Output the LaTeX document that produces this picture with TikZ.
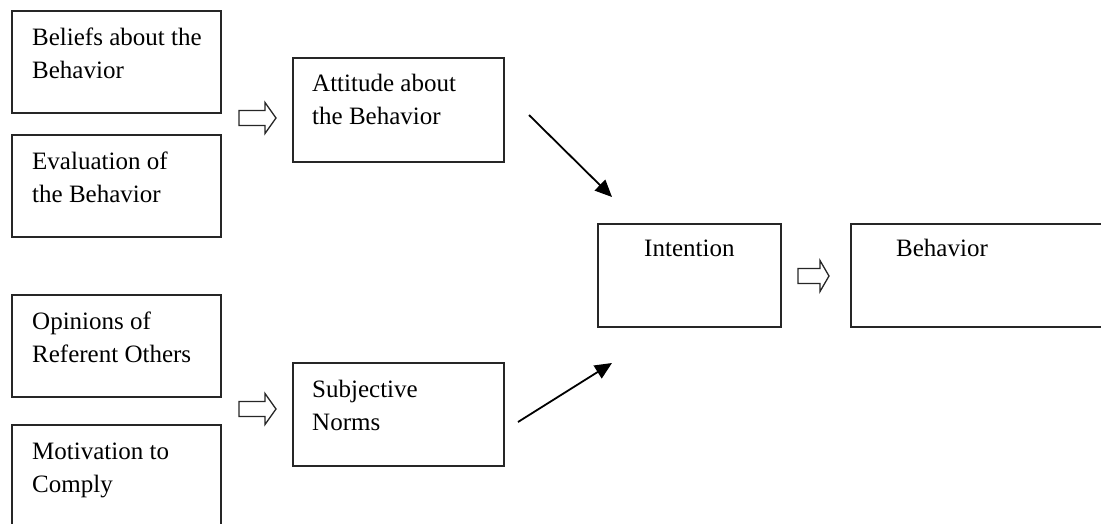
\documentclass[tikz,border=0pt]{standalone}
\usepackage{fontspec}
\setmainfont{Liberation Serif}
\usetikzlibrary{arrows.meta}
\begin{document}
\begin{tikzpicture}[x=1pt,y=-1pt,
  box/.style={draw=black!85, line width=1.7pt, anchor=north west, inner sep=0pt},
  txt/.style={font=\fontsize{25pt}{33pt}\selectfont, align=left, inner sep=0pt, anchor=base west},
  ctxt/.style={font=\fontsize{25pt}{33pt}\selectfont, inner sep=0pt, anchor=base},
  solidarrow/.style={line width=1.8pt, -{Triangle[length=17pt,width=15pt]}},
  hollowarrow/.pic={\draw[line width=1.3pt, draw=black!85, fill=white]
     (0,-7.5)--(\hl,-7.5)--(\hl,-15.5)--(\al,0)--(\hl,15.5)--(\hl,7.5)--(0,7.5)--cycle;}
]
\useasboundingbox (0,0) rectangle (1101,523);
% left boxes
\node[box, minimum width=209pt, minimum height=102pt] (b1) at (11,10) {};
\node[box, minimum width=209pt, minimum height=102pt] (b2) at (11,134) {};
\node[box, minimum width=209pt, minimum height=102pt] (b3) at (11,294) {};
\node[box, minimum width=209pt, minimum height=140pt] (b4) at (11,424) {};
% base anchor = baseline of the last line
\node[txt] (t1) at ([xshift=21pt,yshift=-68pt]b1.north west) {Beliefs about the\\Behavior};
\node[txt] (t2) at ([xshift=21pt,yshift=-68pt]b2.north west) {Evaluation of\\the Behavior};
\node[txt] (t3) at ([xshift=21pt,yshift=-68pt]b3.north west) {Opinions of\\Referent Others};
\node[txt] (t4) at ([xshift=21pt,yshift=-68pt]b4.north west) {Motivation to\\Comply};
% middle boxes
\node[box, minimum width=211pt, minimum height=104pt] (att) at (292,57) {};
\node[box, minimum width=211pt, minimum height=103pt] (sub) at (292,362) {};
\node[txt] (tatt) at ([xshift=20pt,yshift=-67pt]att.north west) {Attitude about\\the Behavior};
\node[txt] (tsub) at ([xshift=20pt,yshift=-68pt]sub.north west) {Subjective\\Norms};
% right boxes
\node[box, minimum width=183pt, minimum height=103pt] (int) at (597,223) {};
\node[box, minimum width=280pt, minimum height=103pt] (beh) at (850,223) {};
\node[ctxt] (tint) at ([yshift=-33pt]int.north) {Intention};
\node[ctxt] (tbeh) at ([xshift=92pt,yshift=-33pt]beh.north west) {Behavior};
% hollow arrows
\def\al{37}\def\hl{26}
\pic (h1) at (239,118) {hollowarrow};
\pic (h2) at (239,409) {hollowarrow};
\def\al{31}\def\hl{22}
\pic (h3) at (798,276) {hollowarrow};
% solid arrows
\coordinate (a1s) at (529,115);
\coordinate (a1e) at (612,197);
\coordinate (a2s) at (518,422);
\coordinate (a2e) at (612,363);
\draw[solidarrow] (a1s) -- (a1e);
\draw[solidarrow] (a2s) -- (a2e);
\end{tikzpicture}
\end{document}
